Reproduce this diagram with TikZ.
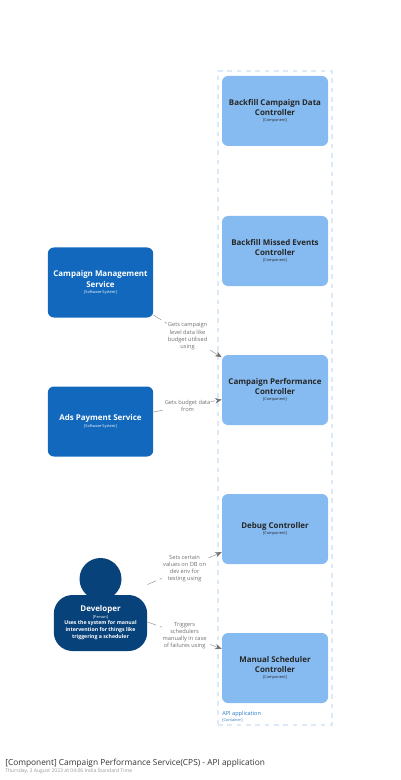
\documentclass[tikz,border=0pt]{standalone}
\usepackage{fontspec}
\usetikzlibrary{arrows.meta}
\setmainfont{Open Sans}
\definecolor{sysblue}{HTML}{1168BD}
\definecolor{compblue}{HTML}{85BBF0}
\definecolor{persblue}{HTML}{08427B}
\definecolor{dashblue}{HTML}{DCE9F8}
\definecolor{linkgrey}{HTML}{707070}
\newcommand{\boxname}[1]{{\fontsize{5.95}{7.6}\selectfont\bfseries #1\par}}
\newcommand{\boxtag}[1]{{\fontsize{2.9}{4.6}\selectfont #1\par}}
\newcommand{\boxnote}[1]{{\fontsize{3.9}{5.2}\selectfont\bfseries #1\par}}
\begin{document}
\begin{tikzpicture}[x=0.75pt,y=-0.75pt]
        \tikzstyle{compbox}=[fill=compblue,rounded corners=4.5pt,minimum width=79.5pt,minimum height=52.5pt,text width=78pt,align=flush center,text=black!85,inner sep=0pt];
        \tikzstyle{sysbox}=[fill=sysblue,rounded corners=4.5pt,minimum width=79pt,minimum height=52.5pt,text width=78pt,align=flush center,text=white,inner sep=0pt];
        \tikzstyle{link}=[draw=linkgrey!70,line width=0.4pt,dash pattern=on 7pt off 3pt,-{Stealth[length=5pt,width=4pt,color=linkgrey]}];
        \tikzstyle{linklabel}=[fill=white,align=center,text=linkgrey,font=\fontsize{4.25}{5.3}\selectfont,inner sep=0.8pt];
        \useasboundingbox (0,0) rectangle (400,780);
        % api application boundary
        \node (api) at (275,398) [draw=dashblue,dash pattern=on 3.5pt off 3.5pt,line width=0.8pt,minimum width=85.5pt,minimum height=490.5pt,inner sep=0pt] {};
        \node (apiname) at (222,714) [anchor=west,inner sep=0pt,text=sysblue!90,font=\fontsize{4.2}{5}\selectfont] {API application};
        \node (apitag) at (222,720) [anchor=west,inner sep=0pt,text=sysblue!90,font=\fontsize{2.9}{4}\selectfont] {[Container]};
        % components
        \node (backfilldata) at (275,111) [compbox] {\boxname{Backfill Campaign Data\\Controller}\boxtag{[Component]}};
        \node (backfillmissed) at (275,251) [compbox] {\boxname{Backfill Missed Events\\Controller}\boxtag{[Component]}};
        \node (performance) at (275,390) [compbox] {\boxname{Campaign Performance\\Controller}\boxtag{[Component]}};
        \node (debug) at (275,529) [compbox] {\boxname{Debug Controller}\boxtag{[Component]}};
        \node (scheduler) at (275,668) [compbox] {\boxname{Manual Scheduler\\Controller}\boxtag{[Component]}};
        % systems
        \node (management) at (100.5,282.5) [sysbox] {\boxname{Campaign Management\\Service}\boxtag{[Software System]}};
        \node (payment) at (100.5,421.5) [sysbox] {\boxname{Ads Payment Service}\boxtag{[Software System]}};
        % person
        \node (person) at (100.5,605) [minimum width=70pt,minimum height=70pt,inner sep=0pt] {};
        \node (head) at (100.5,579) [circle,fill=persblue,minimum size=31.5pt,inner sep=0pt] {};
        \node (developer) at (100.5,623) [fill=persblue,rounded corners=14pt,minimum width=70pt,minimum height=42pt,text width=68pt,align=flush center,text=white,inner sep=0pt] {\boxname{Developer}\boxtag{[Person]}\boxnote{Uses the system for manual\\intervention for things like\\triggering a scheduler}};
        % relationships
        \draw[link] (management)--(performance) node[midway,linklabel] {Gets campaign\\level data like\\budget utilised\\using};
        \draw[link] (payment)--(performance) node[midway,linklabel] {Gets budget data\\from};
        \draw[link] (person)--(debug) node[midway,linklabel] {Sets certain\\values on DB on\\dev env for\\testing using};
        \draw[link] (person)--(scheduler) node[midway,linklabel] {Triggers\\schedulers\\manually in case\\of failures using};
        % title
        \node (title) at (5,763) [anchor=west,inner sep=0pt,text=black!80,font=\fontsize{6.25}{8}\selectfont] {[Component] Campaign Performance Service(CPS) - API application};
        \node (stamp) at (5,771) [anchor=west,inner sep=0pt,text=black!40,font=\fontsize{3.8}{5}\selectfont] {Thursday, 3 August 2023 at 04:06 India Standard Time};
\end{tikzpicture}
\end{document}
